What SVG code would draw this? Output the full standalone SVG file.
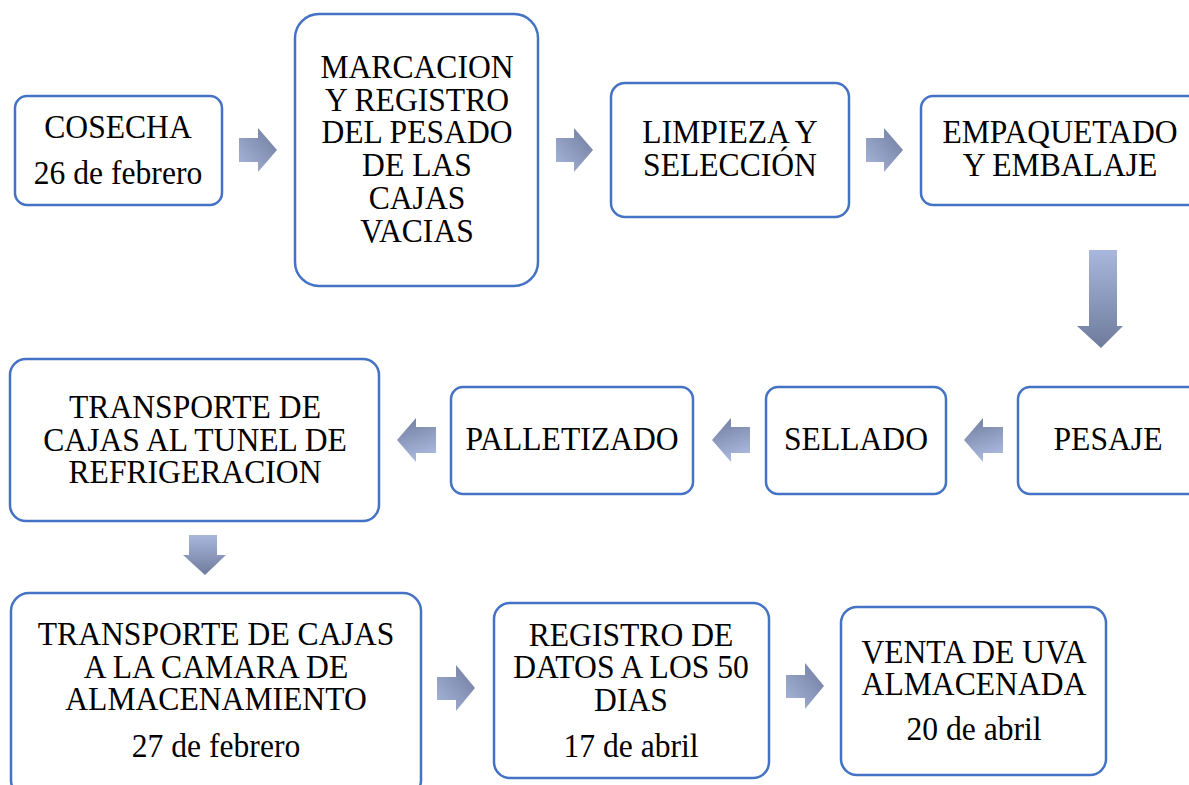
<svg xmlns="http://www.w3.org/2000/svg" width="1189" height="785" viewBox="0 0 1189 785">
<defs>
<linearGradient id="gR" x1="0" y1="1" x2="1" y2="0"><stop offset="0" stop-color="#A9B7DD"/><stop offset="1" stop-color="#6E7B9C"/></linearGradient>
<linearGradient id="gL" x1="0" y1="0" x2="0.3" y2="1"><stop offset="0" stop-color="#6E7B9C"/><stop offset="1" stop-color="#A9B7DD"/></linearGradient>
<linearGradient id="gD" x1="0" y1="0" x2="0" y2="1"><stop offset="0" stop-color="#A9B7DD"/><stop offset="1" stop-color="#6E7B9C"/></linearGradient>
<style>
.box{fill:#fff;stroke:#4472C4;stroke-width:2.5}
text{font-family:'Liberation Serif','DejaVu Serif',serif;font-size:34px;fill:#000;text-anchor:middle}
</style>
</defs>
<rect width="1189" height="785" fill="#fff"/>
<g id="connectors">
<polygon fill="url(#gR)" points="239,138 258,138 258,128 277,150 258,172 258,162 239,162"/>
<polygon fill="url(#gR)" points="556,138 574,138 574,128 593,150 574,172 574,162 556,162"/>
<polygon fill="url(#gR)" points="866,138 884,138 884,128 903,150 884,172 884,162 866,162"/>
<polygon fill="url(#gD)" points="1089,250 1117,250 1117,326 1123,326 1101,348 1077,326 1089,326"/>
<polygon fill="url(#gL)" points="1003,427 983,427 983,418 964,440 983,462 983,453 1003,453"/>
<polygon fill="url(#gL)" points="750,427 731,427 731,418 712,440 731,462 731,453 750,453"/>
<polygon fill="url(#gL)" points="436,427 416,427 416,418 397,440 416,462 416,453 436,453"/>
<polygon fill="url(#gD)" points="189,535 217,535 217,555 226,555 205,575 183,555 189,555"/>
<polygon fill="url(#gR)" points="437,677 456,677 456,665 475,688 456,711 456,700 437,700"/>
<polygon fill="url(#gR)" points="786,675 805,675 805,663 824,686 805,709 805,698 786,698"/>
</g>
<g id="n1"><rect class="box" x="15" y="96" width="207" height="109" rx="12"/>
<text transform="translate(118 138) scale(0.93 1)">COSECHA</text><text transform="translate(118 184) scale(0.93 1)">26 de febrero</text></g>
<g id="n2"><rect class="box" x="295" y="14" width="243" height="272" rx="24"/>
<text transform="translate(417 78) scale(0.93 1)">MARCACION</text><text transform="translate(417 111) scale(0.93 1)">Y REGISTRO</text><text transform="translate(417 143) scale(0.93 1)">DEL PESADO</text><text transform="translate(417 176) scale(0.93 1)">DE LAS</text><text transform="translate(417 209) scale(0.93 1)">CAJAS</text><text transform="translate(417 242) scale(0.93 1)">VACIAS</text></g>
<g id="n3"><rect class="box" x="611" y="83" width="238" height="134" rx="14"/>
<text transform="translate(730 143) scale(0.93 1)">LIMPIEZA Y</text><text transform="translate(730 176) scale(0.93 1)">SELECCIÓN</text></g>
<g id="n4"><rect class="box" x="921" y="96" width="280" height="109" rx="12"/>
<text transform="translate(1060 143) scale(0.93 1)">EMPAQUETADO</text><text transform="translate(1060 176) scale(0.93 1)">Y EMBALAJE</text></g>
<g id="n5"><rect class="box" x="1018" y="387" width="185" height="107" rx="12"/>
<text transform="translate(1108 450) scale(0.93 1)">PESAJE</text></g>
<g id="n6"><rect class="box" x="766" y="387" width="180" height="107" rx="12"/>
<text transform="translate(856 450) scale(0.93 1)">SELLADO</text></g>
<g id="n7"><rect class="box" x="451" y="387" width="242" height="107" rx="12"/>
<text transform="translate(572 450) scale(0.93 1)">PALLETIZADO</text></g>
<g id="n8"><rect class="box" x="10" y="359" width="369" height="162" rx="16"/>
<text transform="translate(195 418) scale(0.93 1)">TRANSPORTE DE</text><text transform="translate(195 451) scale(0.93 1)">CAJAS AL TUNEL DE</text><text transform="translate(195 483) scale(0.93 1)">REFRIGERACION</text></g>
<g id="n9"><rect class="box" x="11" y="593" width="410" height="205" rx="18"/>
<text transform="translate(216 645) scale(0.93 1)">TRANSPORTE DE CAJAS</text><text transform="translate(216 678) scale(0.93 1)">A LA CAMARA DE</text><text transform="translate(216 710) scale(0.93 1)">ALMACENAMIENTO</text><text transform="translate(216 757) scale(0.93 1)">27 de febrero</text></g>
<g id="n10"><rect class="box" x="494" y="603" width="275" height="175" rx="16"/>
<text transform="translate(631 646) scale(0.93 1)">REGISTRO DE</text><text transform="translate(631 678) scale(0.93 1)">DATOS A LOS 50</text><text transform="translate(631 711) scale(0.93 1)">DIAS</text><text transform="translate(631 757) scale(0.93 1)">17 de abril</text></g>
<g id="n11"><rect class="box" x="841" y="607" width="265" height="168" rx="16"/>
<text transform="translate(974 663) scale(0.93 1)">VENTA DE UVA</text><text transform="translate(974 695) scale(0.93 1)">ALMACENADA</text><text transform="translate(974 740) scale(0.93 1)">20 de abril</text></g>
</svg>
